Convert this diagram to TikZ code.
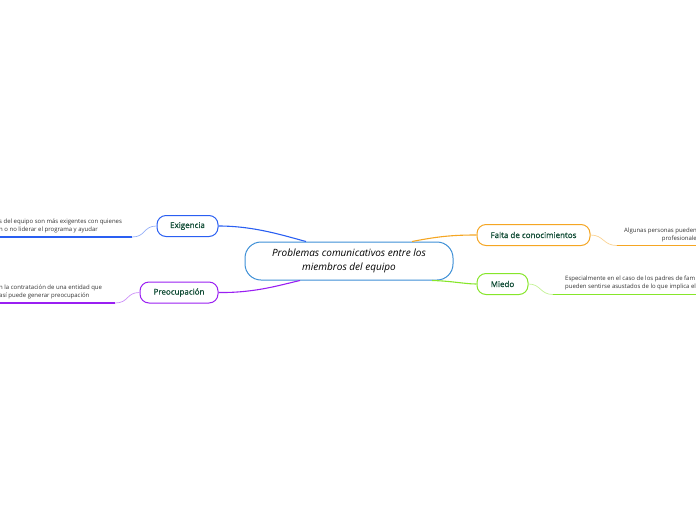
\documentclass[tikz,border=0pt]{standalone}
\usepackage{fontspec}
\setmainfont{Open Sans}
\newfontfamily\topicfont[FakeBold=0.7]{Open Sans}
\usetikzlibrary{positioning}
\definecolor{exblue}{HTML}{2A5FF2}
\definecolor{prpurple}{HTML}{9A1FF2}
\definecolor{faorange}{HTML}{F5A623}
\definecolor{migreen}{HTML}{86E62A}
\definecolor{cenblue}{HTML}{3D8FD6}
\definecolor{labgreen}{HTML}{0E4A33}
\definecolor{leafgrey}{HTML}{333333}
\tikzset{
  centrebox/.style={draw=cenblue, line width=1pt, rounded corners=16pt, fill=white,
    minimum width=208pt, minimum height=38pt, align=center,
    font=\fontsize{10}{14}\selectfont\itshape},
  topicbox/.style={draw=#1, line width=1pt, rounded corners=9pt, fill=white,
    minimum height=21pt, inner xsep=0pt, font=\topicfont\fontsize{8}{9}\selectfont,
    text=labgreen},
  branch/.style={draw=#1, line width=1.1pt},
  twig/.style={draw=#1!50, line width=0.7pt},
  leafline/.style={draw=#1, line width=1.5pt},
  leaftext/.style={font=\fontsize{6}{8.5}\selectfont, text=leafgrey, inner sep=0pt},
}

\begin{document}
\begin{tikzpicture}[x=1pt, y=-1pt]
\useasboundingbox (0,0) rectangle (696,520);
\clip (0,0) rectangle (696,520);
% main idea and topics
\node[centrebox] (centre) at (349,261) {Problemas comunicativos entre los\\miembros del equipo};
\node[topicbox=exblue, minimum width=61pt] (exig) at (187.5,226) {Exigencia};
\node[topicbox=prpurple, minimum width=78pt] (preo) at (179,292.5) {Preocupación};
\node[topicbox=faorange, minimum width=113pt] (falta) at (533.5,235) {Falta de conocimientos};
\node[topicbox=migreen, minimum width=51pt] (miedo) at (502.5,284) {Miedo};
% branch ends on the main box
\coordinate (cExig) at ([xshift=-43pt]centre.north);
\coordinate (cPreo) at ([xshift=-49pt]centre.south);
\coordinate (cFalta) at ([xshift=63pt]centre.north);
\coordinate (cMiedo) at ([xshift=83pt]centre.south);
\draw[branch=exblue] (exig.east) .. controls (255,226) and (285,236) .. (cExig);
\draw[branch=prpurple] (preo.east) .. controls (255,293) and (280,285) .. (cPreo);
\draw[branch=faorange] (cFalta) .. controls (440,236) and (455,235) .. (falta.west);
\draw[branch=migreen] (cMiedo) .. controls (452,281) and (465,284) .. (miedo.west);
% leaves
\coordinate (exL) at (132,237);
\coordinate (exEnd) at (-3,237);
\coordinate (prL) at (115,303);
\coordinate (prEnd) at (-3,303);
\coordinate (faL) at (617,245.5);
\coordinate (faEnd) at (699,245.5);
\coordinate (miL) at (553,294.5);
\coordinate (miEnd) at (699,294.5);
\draw[twig=exblue] (exig.west) .. controls (143,226) and (146,237) .. (exL);
\draw[leafline=exblue] (exL) -- (exEnd);
\draw[twig=prpurple] (preo.west) .. controls (126,292.5) and (129,303) .. (prL);
\draw[leafline=prpurple] (prL) -- (prEnd);
\draw[twig=faorange] (falta.east) .. controls (604,235) and (603,245.5) .. (faL);
\draw[leafline=faorange] (faL) -- (faEnd);
\draw[twig=migreen] (miedo.east) .. controls (541,284) and (540,294.5) .. (miL);
\draw[leafline=migreen] (miL) -- (miEnd);
\node[leaftext, anchor=north west, align=left] (exText) at (-1,218.5)
  {s del equipo son más exigentes con quienes\\n o no liderar el programa y ayudar};
\node[leaftext, anchor=north west, align=left] (prText) at (-1,284.5)
  {n la contratación de una entidad que\\así puede generar preocupación};
\node[leaftext, anchor=north east, align=right] (faText) at (697,227.5)
  {Algunas personas pueden\\profesionale};
\node[leaftext, anchor=north west, align=left] (miText) at (565,275.5)
  {Especialmente en el caso de los padres de fam\\pueden sentirse asustados de lo que implica el};
\end{tikzpicture}
\end{document}
